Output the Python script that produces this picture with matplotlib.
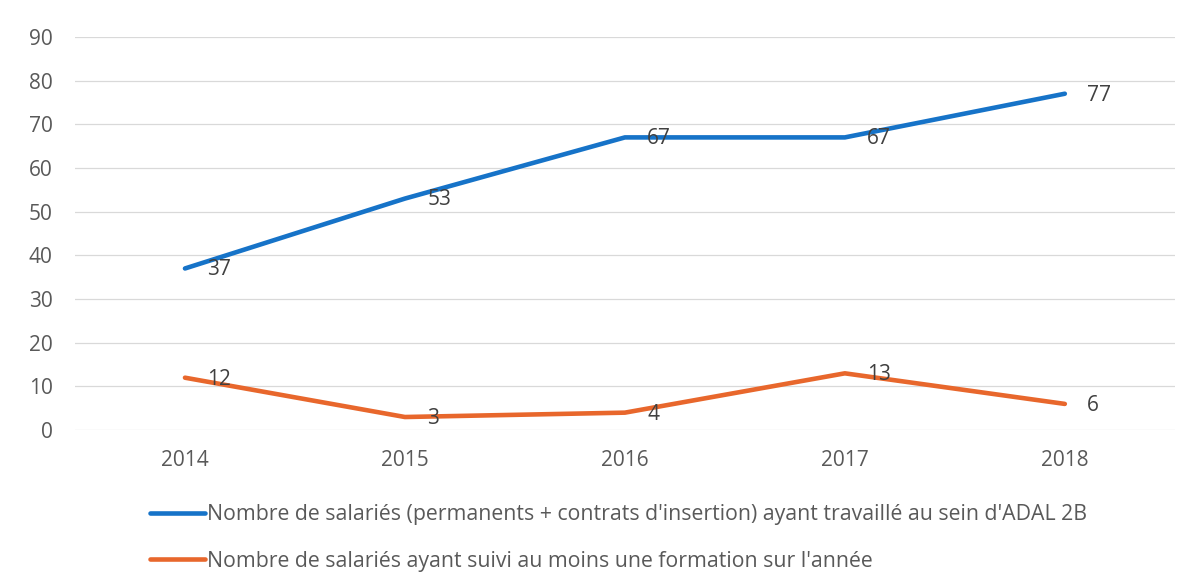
import matplotlib
matplotlib.use("Agg")
import matplotlib.pyplot as plt

# data
years = ["2014", "2015", "2016", "2017", "2018"]
salaries = [37, 53, 67, 67, 77]
formes = [12, 3, 4, 13, 6]
label_salaries = "Nombre de salariés (permanents + contrats d'insertion) ayant travaillé au sein d'ADAL 2B"
label_formes = "Nombre de salariés ayant suivi au moins une formation sur l'année"
y_ticks = list(range(0, 100, 10))

plt.rcParams['font.family'] = ['Open Sans', 'DejaVu Sans']

BLUE = '#1673C8'
ORANGE = '#E8672C'
TICK = '#595959'
LABEL = '#404040'
FS = 15

fig = plt.figure(figsize=(12, 5.86), dpi=100)
ax = fig.add_axes([0.0625, 0.266, 0.9165, 0.671])

x = range(len(years))
ax.plot(x, salaries, color=BLUE, lw=3.3, solid_capstyle='round',
        label=label_salaries, zorder=3)
ax.plot(x, formes, color=ORANGE, lw=3.3, solid_capstyle='round',
        label=label_formes, zorder=3)

# data labels to the right of each point
for series in (salaries, formes):
    for i, v in enumerate(series):
        ax.annotate(str(v), (i, v), xytext=(16, -1), textcoords='offset points',
                    ha='left', va='center', fontsize=FS, color=LABEL, zorder=4)

ax.set_xlim(-0.5, len(years) - 0.5)
ax.set_ylim(0, 90)
ax.set_yticks(y_ticks)
ax.set_xticks(list(x))
ax.set_xticklabels(years)
ax.grid(axis='y', color='#D9D9D9', lw=0.9)
ax.set_axisbelow(True)
for s in ax.spines.values():
    s.set_visible(False)
ax.tick_params(axis='both', length=0, labelsize=FS, colors=TICK)
ax.tick_params(axis='y', pad=16)
ax.tick_params(axis='x', pad=14)

fig.legend(loc='center left', bbox_to_anchor=(150 / 1200, 0.082),
           frameon=False, fontsize=15.3, handlelength=2.6, handletextpad=0.1,
           labelspacing=1.2, borderpad=0, borderaxespad=0, labelcolor=TICK)

fig.savefig('out.png', dpi=100, facecolor='white')
